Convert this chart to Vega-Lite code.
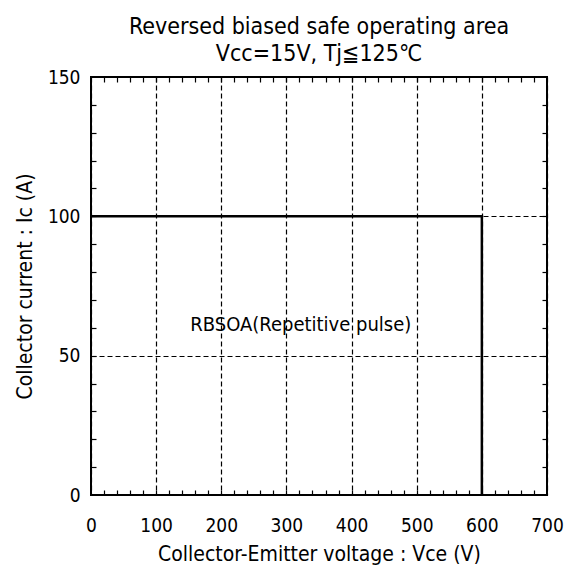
{
  "$schema": "https://vega.github.io/schema/vega-lite/v6.json",
  "width": 456,
  "height": 418,
  "autosize": {"type": "none"},
  "padding": {"left": 91, "top": 77, "right": 18, "bottom": 90},
  "background": "white",
  "config": {
    "view": {"stroke": "black", "strokeWidth": 2},
    "font": "Liberation Sans Narrow, DejaVu Sans Condensed, sans-serif"
  },
  "title": {
    "text": ["Reversed biased safe operating area", "Vcc=15V, Tj≦125℃"],
    "fontSize": 23,
    "fontWeight": "normal",
    "lineHeight": 27,
    "offset": 2,
    "anchor": "middle",
    "color": "black"
  },
  "datasets": {
    "rbsoa": [
      {"i": 1, "vce": 0, "ic": 100},
      {"i": 2, "vce": 600, "ic": 100},
      {"i": 3, "vce": 600, "ic": 0}
    ],
    "label": [{"text": "RBSOA(Repetitive pulse)", "vce": 322, "ic": 61}]
  },
  "layer": [
    {
      "data": {"name": "rbsoa"},
      "mark": {"type": "line", "color": "black", "strokeWidth": 2.5},
      "encoding": {
        "x": {
          "field": "vce", "type": "quantitative",
          "scale": {"domain": [0, 700], "nice": false, "zero": false},
          "axis": {
            "orient": "bottom", "values": [0, 100, 200, 300, 400, 500, 600, 700],
            "ticks": false, "domain": false, "labelPadding": 21, "labelFontSize": 19,
            "labelColor": "black", "labelFlush": false,
            "grid": true, "gridColor": "black", "gridDash": [5, 3], "gridWidth": 1.2, "gridOpacity": 1,
            "title": "Collector-Emitter voltage : Vce (V)", "titleFontSize": 21,
            "titleFontWeight": "normal", "titlePadding": 8, "titleColor": "black"
          }
        },
        "y": {
          "field": "ic", "type": "quantitative",
          "scale": {"domain": [0, 150], "nice": false, "zero": false},
          "axis": {
            "orient": "left", "values": [0, 50, 100, 150],
            "ticks": false, "domain": false, "labelPadding": 11, "labelFontSize": 19,
            "labelColor": "black", "labelFlush": false,
            "grid": true, "gridColor": "black", "gridDash": [5, 3], "gridWidth": 1.2, "gridOpacity": 1,
            "title": "Collector current : Ic (A)", "titleFontSize": 21,
            "titleFontWeight": "normal", "titlePadding": 12, "titleColor": "black"
          }
        },
        "order": {"field": "i"}
      }
    },
    {
      "data": {"name": "rbsoa"},
      "mark": {"type": "point", "opacity": 0},
      "encoding": {
        "x": {
          "field": "vce", "type": "quantitative",
          "axis": {
            "orient": "bottom",
            "values": [20, 40, 60, 80, 100, 120, 140, 160, 180, 200, 220, 240, 260, 280, 300, 320, 340, 360, 380, 400, 420, 440, 460, 480, 500, 520, 540, 560, 580, 600, 620, 640, 660, 680],
            "ticks": true, "tickSize": -5, "tickColor": "black", "tickWidth": 1.2,
            "labels": false, "domain": false, "grid": false, "title": null
          }
        },
        "y": {
          "field": "ic", "type": "quantitative",
          "axis": {
            "orient": "left",
            "values": [10, 20, 30, 40, 50, 60, 70, 80, 90, 100, 110, 120, 130, 140],
            "ticks": true, "tickSize": -5, "tickColor": "black", "tickWidth": 1.2,
            "labels": false, "domain": false, "grid": false, "title": null
          }
        }
      }
    },
    {
      "data": {"name": "rbsoa"},
      "mark": {"type": "point", "opacity": 0},
      "encoding": {
        "x": {
          "field": "vce", "type": "quantitative",
          "axis": {
            "orient": "top",
            "values": [20, 40, 60, 80, 100, 120, 140, 160, 180, 200, 220, 240, 260, 280, 300, 320, 340, 360, 380, 400, 420, 440, 460, 480, 500, 520, 540, 560, 580, 600, 620, 640, 660, 680],
            "ticks": true, "tickSize": -5, "tickColor": "black", "tickWidth": 1.2,
            "labels": false, "domain": false, "grid": false, "title": null
          }
        },
        "y": {
          "field": "ic", "type": "quantitative",
          "axis": {
            "orient": "right",
            "values": [10, 20, 30, 40, 50, 60, 70, 80, 90, 100, 110, 120, 130, 140],
            "ticks": true, "tickSize": -5, "tickColor": "black", "tickWidth": 1.2,
            "labels": false, "domain": false, "grid": false, "title": null
          }
        }
      }
    },
    {
      "data": {"name": "label"},
      "mark": {"type": "text", "fontSize": 20, "color": "black", "align": "center", "baseline": "middle"},
      "encoding": {
        "x": {"field": "vce", "type": "quantitative", "axis": null},
        "y": {"field": "ic", "type": "quantitative", "axis": null},
        "text": {"field": "text"}
      }
    }
  ],
  "resolve": {"axis": {"x": "independent", "y": "independent"}}
}
